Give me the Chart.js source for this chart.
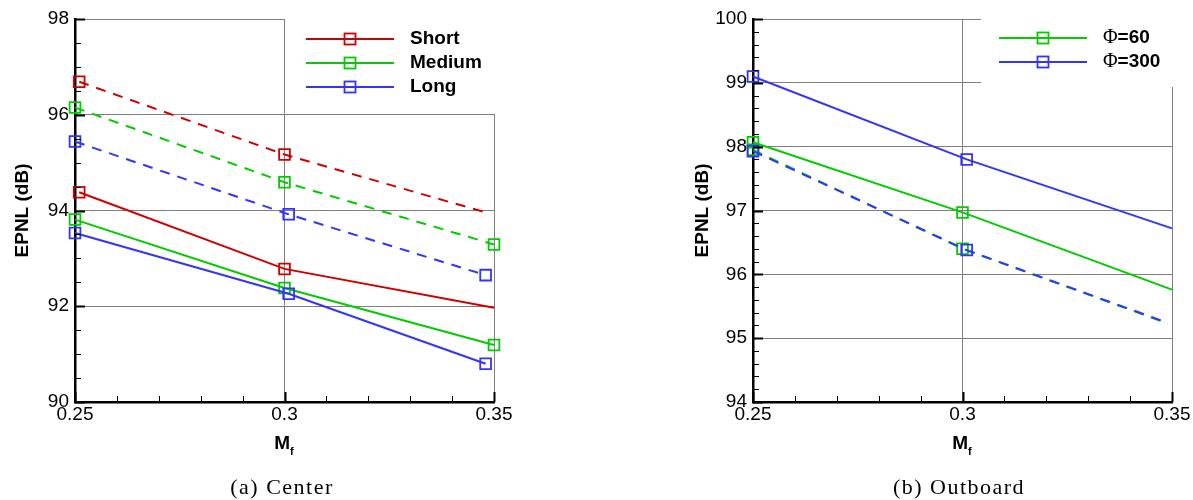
<!DOCTYPE html>
<html>
<head>
<meta charset="utf-8">
<script src="https://cdn.jsdelivr.net/npm/chart.js@4.4.1/dist/chart.umd.min.js"></script>
<style>
  html, body { margin: 0; padding: 0; background: #fff; }
  body { width: 1193px; height: 500px; position: relative; overflow: hidden; }
  canvas { position: absolute; top: 0; }
  #leftChart { left: 0; }
  #rightChart { left: 680px; }
  .xtitle {
    position: absolute; top: 433px; width: 120px; text-align: center;
    font: bold 19px "Liberation Sans", Arial, sans-serif; line-height: 19px;
  }
  .xtitle sub { font-size: 11px; vertical-align: baseline; position: relative; top: 6px; }
  .caption {
    position: absolute; top: 476px; width: 260px; text-align: center;
    font: 22px "Liberation Serif", "Times New Roman", serif; line-height: 22px; letter-spacing: 1.5px;
  }
</style>
</head>
<body>
<canvas id="leftChart" width="520" height="460"></canvas>
<canvas id="rightChart" width="513" height="460"></canvas>
<div class="xtitle" style="left:224px">M<sub>f</sub></div>
<div class="xtitle" style="left:902px">M<sub>f</sub></div>
<div class="caption" style="left:152px">(a) Center</div>
<div class="caption" style="left:829px">(b) Outboard</div>
<script>
// Center panel: EPNL vs Mf, solid and dashed for each length
const shortSolidX = [0.251, 0.300, 0.350];
const shortSolidY = [94.38, 92.78, 91.97];
const shortDashX = [0.251, 0.300, 0.348];
const shortDashY = [96.69, 95.17, 93.96];
const mediumSolidX = [0.250, 0.300, 0.350];
const mediumSolidY = [93.81, 92.38, 91.19];
const mediumDashX = [0.250, 0.300, 0.350];
const mediumDashY = [96.15, 94.59, 93.29];
const longSolidX = [0.250, 0.301, 0.348];
const longSolidY = [93.53, 92.26, 90.80];
const longDashX = [0.250, 0.301, 0.348];
const longDashY = [95.44, 93.92, 92.65];

// Outboard panel
const phi60SolidX = [0.250, 0.300, 0.350];
const phi60SolidY = [98.07, 96.97, 95.76];
const phi60DashX = [0.250, 0.300, 0.349];
const phi60DashY = [97.95, 96.40, 95.23];
const phi300SolidX = [0.250, 0.301, 0.350];
const phi300SolidY = [99.10, 97.80, 96.72];
const phi300DashX = [0.250, 0.301, 0.349];
const phi300DashY = [97.93, 96.38, 95.24];

const centerLabels = ['Short', 'Medium', 'Long'];
const outboardLabels = ['=60', '=300'];
const xTickLabels = { 0.25: '0.25', 0.3: '0.3', 0.35: '0.35' };

const RED = '#d00000';
const GREEN = '#00cc00';
const BLUE = '#3333ff';
const SANS = '"Liberation Sans", Arial, sans-serif';

function pts(xs, ys){
  return xs.map((x, i) => ({x, y: ys[i]}));
}

function series(xs, ys, color, dashed, radius){
  return {
    data: pts(xs, ys),
    borderColor: color,
    borderWidth: 2,
    borderDash: dashed ? [10, 8] : [],
    pointStyle: 'rect',
    pointRadius: radius || 7.6,
    pointBorderWidth: 1.8,
    pointBorderColor: color,
    pointBackgroundColor: 'rgba(0,0,0,0)',
    tension: 0,
    clip: false
  };
}

// inward major/minor ticks on left and bottom axes
const innerTicks = {
  id: 'innerTicks',
  afterDatasetsDraw(chart, args, opts){
    const {ctx, chartArea: a, scales: {x, y}} = chart;
    ctx.save();
    ctx.strokeStyle = '#000';
    const ny = Math.round((y.max - y.min) / opts.yMinor);
    for (let i = 0; i <= ny; i++){
      const v = y.min + i * opts.yMinor;
      const r = v / opts.yMajor;
      const major = Math.abs(r - Math.round(r)) < 1e-6;
      const py = Math.round(y.getPixelForValue(v)) + 0.5;
      ctx.lineWidth = major ? 2 : 1;
      ctx.beginPath();
      ctx.moveTo(a.left, py);
      ctx.lineTo(a.left + (major ? 10 : 6), py);
      ctx.stroke();
    }
    const nx = Math.round((x.max - x.min) / opts.xMinor);
    for (let i = 0; i <= nx; i++){
      const v = x.min + i * opts.xMinor;
      const major = i % 5 === 0;
      const px = Math.round(x.getPixelForValue(v)) + 0.5;
      ctx.lineWidth = major ? 2 : 1;
      ctx.beginPath();
      ctx.moveTo(px, a.bottom);
      ctx.lineTo(px, a.bottom - (major ? 10 : 6));
      ctx.stroke();
    }
    ctx.restore();
  }
};

// white legend box sitting over the grid in the top-right corner
const boxLegend = {
  id: 'boxLegend',
  afterDraw(chart, args, opts){
    const ctx = chart.ctx;
    ctx.save();
    ctx.fillStyle = '#fff';
    ctx.fillRect(opts.box[0], opts.box[1], opts.box[2], opts.box[3]);
    opts.items.forEach((it, i) => {
      const y = opts.rowY + i * opts.rowGap;
      ctx.strokeStyle = it.color;
      ctx.lineWidth = 2;
      ctx.beginPath();
      ctx.moveTo(opts.lineX0, y);
      ctx.lineTo(opts.lineX1, y);
      ctx.stroke();
      const mx = (opts.lineX0 + opts.lineX1) / 2;
      ctx.lineWidth = 1.8;
      ctx.strokeRect(mx - 5.5, y - 5.5, 11, 11);
      ctx.fillStyle = '#000';
      ctx.textBaseline = 'middle';
      let tx = opts.textX;
      if (opts.prefix){
        ctx.font = '20px "Liberation Serif", serif';
        ctx.fillText(opts.prefix, tx, y);
        tx += ctx.measureText(opts.prefix).width;
      }
      ctx.font = 'bold 19px ' + SANS;
      ctx.fillText(it.label, tx, y);
    });
    ctx.restore();
  }
};

function makeOptions(cfg){
  return {
    responsive: false,
    animation: false,
    layout: { padding: { top: 19, right: cfg.padRight, left: 0, bottom: 0 } },
    plugins: {
      legend: { display: false },
      tooltip: { enabled: false },
      innerTicks: { yMinor: cfg.yMinor, yMajor: cfg.yMajor, xMinor: 0.01 },
      boxLegend: cfg.legend
    },
    scales: {
      x: {
        type: 'linear',
        min: 0.25, max: 0.35,
        afterFit: s => { s.height = 58; },
        ticks: {
          stepSize: 0.05, padding: 1, color: '#000', font: { family: SANS, size: 19 }, maxRotation: 0,
          callback: v => xTickLabels[Math.round(v * 100) / 100] || ''
        },
        grid: { color: '#808080', lineWidth: 1, drawTicks: false },
        border: { color: '#000', width: 2.5 }
      },
      y: {
        min: cfg.yMin, max: cfg.yMax,
        afterFit: s => { s.width = cfg.yWidth; },
        ticks: { stepSize: cfg.yMajor, padding: 6, color: '#000', font: { family: SANS, size: 19 } },
        grid: { color: '#808080', lineWidth: 1, drawTicks: false },
        border: { color: '#000', width: 2.5 },
        title: { display: true, text: 'EPNL (dB)', color: '#000', font: { family: SANS, size: 19, weight: 'bold' }, padding: { top: 11 } }
      }
    }
  };
}

new Chart(document.getElementById('leftChart'), {
  type: 'line',
  data: {
    datasets: [
      series(longSolidX, longSolidY, BLUE, false),
      series(longDashX, longDashY, BLUE, true),
      series(mediumSolidX, mediumSolidY, GREEN, false),
      series(mediumDashX, mediumDashY, GREEN, true),
      series(shortSolidX, shortSolidY, RED, false, [7.6, 7.6, 0]),
      series(shortDashX, shortDashY, RED, true, [7.6, 7.6, 0])
    ]
  },
  options: makeOptions({
    padRight: 26, yWidth: 75, yMin: 90, yMax: 98, yMajor: 2, yMinor: 0.5,
    legend: {
      box: [285, 0, 235, 114],
      items: [
        { label: centerLabels[0], color: RED },
        { label: centerLabels[1], color: GREEN },
        { label: centerLabels[2], color: BLUE }
      ],
      lineX0: 306, lineX1: 394, textX: 410, rowY: 39, rowGap: 24
    }
  }),
  plugins: [innerTicks, boxLegend]
});

new Chart(document.getElementById('rightChart'), {
  type: 'line',
  data: {
    datasets: [
      series(phi300DashX, phi300DashY, BLUE, true, [7.6, 7.6, 0]),
      series(phi300SolidX, phi300SolidY, BLUE, false, [7.6, 7.6, 0]),
      series(phi60DashX, phi60DashY, GREEN, true, [7.6, 7.6, 0]),
      series(phi60SolidX, phi60SolidY, GREEN, false, [7.6, 7.6, 0])
    ]
  },
  options: makeOptions({
    padRight: 21, yWidth: 73, yMin: 94, yMax: 100, yMajor: 1, yMinor: 0.2,
    legend: {
      box: [301, 0, 212, 87],
      items: [
        { label: outboardLabels[0], color: GREEN },
        { label: outboardLabels[1], color: BLUE }
      ],
      prefix: '\u03A6',
      lineX0: 319, lineX1: 407, textX: 423, rowY: 38, rowGap: 24
    }
  }),
  plugins: [innerTicks, boxLegend]
});
</script>
</body>
</html>
